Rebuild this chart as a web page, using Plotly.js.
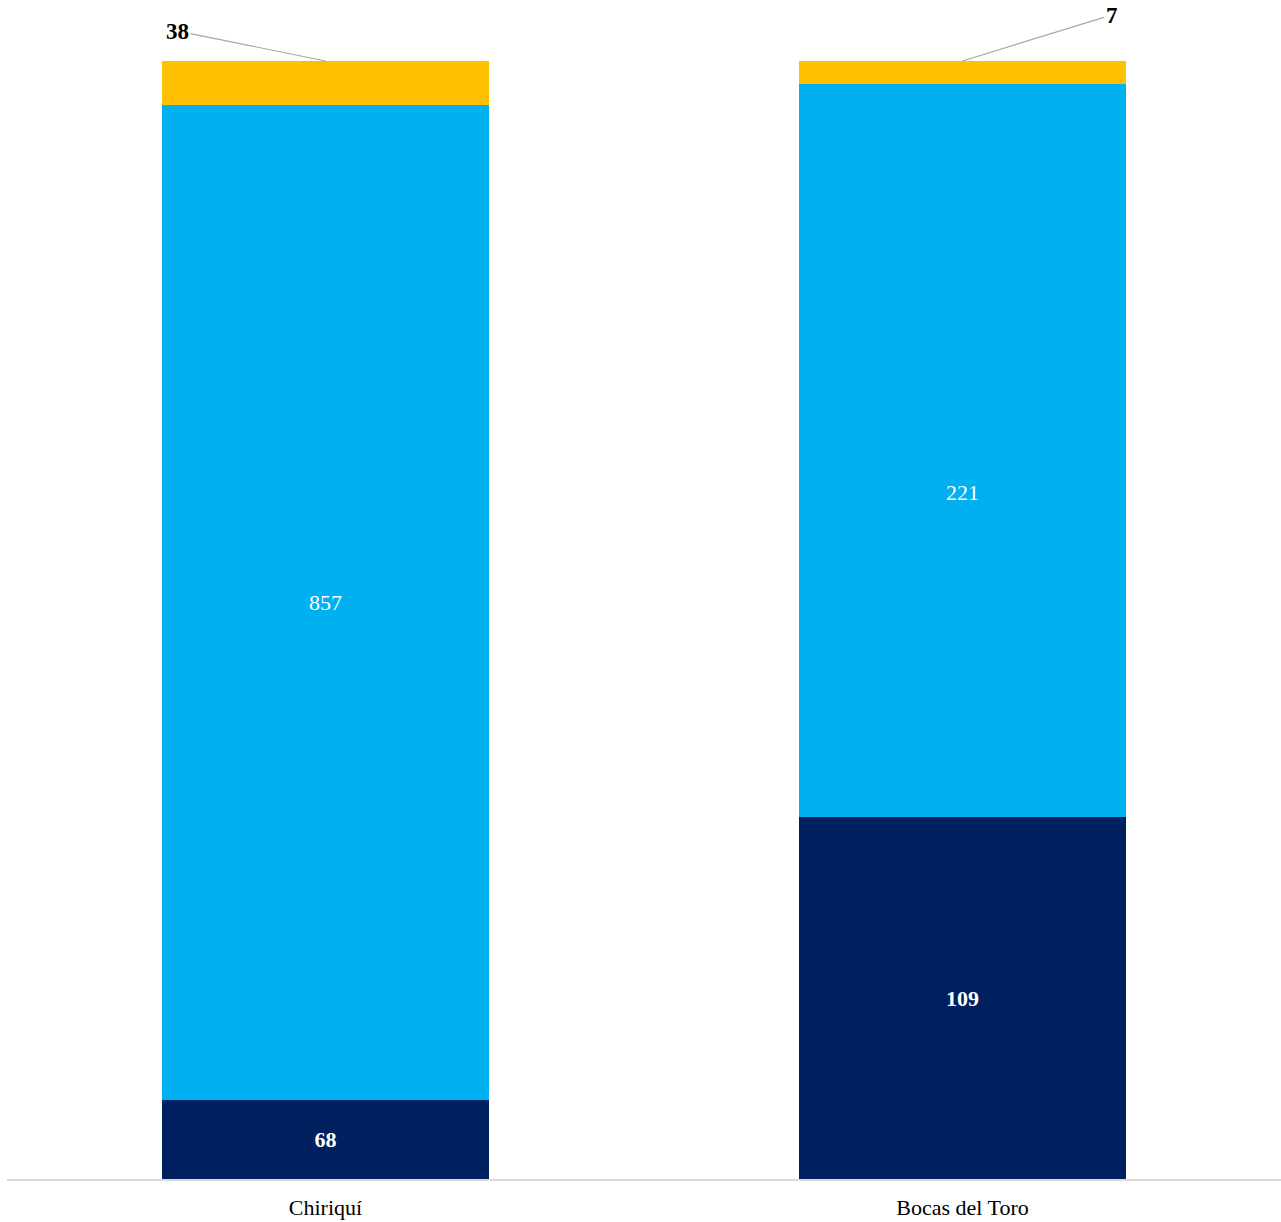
<!DOCTYPE html>
<html>
<head>
<meta charset="utf-8">
<script src="https://cdn.plot.ly/plotly-3.0.1.min.js"></script>
<style>html,body{margin:0;padding:0;background:#fff;}#chart{width:1281px;height:1222px;}</style>
</head>
<body>
<div id="chart"></div>
<script>
const categories = ["Chiriquí", "Bocas del Toro"];
const seriesNavy = [68, 109];
const seriesBlue = [857, 221];
const seriesYellow = [38, 7];
const colors = ["#002060", "#00B0F0", "#FFC000"];

const font = "Liberation Serif, DejaVu Serif, serif";

// pixel offsets of the mid-series labels, as placed in the reference
const blueLabelShift = [0, -42];

const traces = [
  {
    type: "bar", x: categories, y: seriesNavy, text: seriesNavy.map(String),
    marker: {color: colors[0]}, textposition: "inside", insidetextanchor: "middle",
    textfont: {color: "#ffffff", family: font, size: 22, weight: "bold"},
    hoverinfo: "skip"
  },
  {
    type: "bar", x: categories, y: seriesBlue,
    marker: {color: colors[1]}, textposition: "none",
    hoverinfo: "skip"
  },
  {
    type: "bar", x: categories, y: seriesYellow,
    marker: {color: colors[2]}, textposition: "none",
    hoverinfo: "skip"
  }
];

const totals = categories.map((c, i) => seriesNavy[i] + seriesBlue[i] + seriesYellow[i]);

const blueLabels = categories.map((c, i) => ({
  x: c, y: (seriesNavy[i] + seriesBlue[i] / 2) / totals[i] * 100,
  xref: "x", yref: "y", showarrow: false,
  text: String(seriesBlue[i]), yshift: blueLabelShift[i],
  font: {family: font, size: 22, color: "#ffffff"}
}));

const offsets = [[-148, -30], [149, -46]];
const outerLabels = categories.map((c, i) => ({
  x: c, y: 100, xref: "x", yref: "y",
  text: "<b>" + seriesYellow[i] + "</b>",
  showarrow: true, arrowhead: 0, arrowwidth: 1.2, arrowcolor: "#A6A6A6",
  ax: offsets[i][0], ay: offsets[i][1],
  font: {family: font, size: 23, color: "#000000"},
  standoff: 0
}));

const layout = {
  width: 1281, height: 1222,
  margin: {l: 7, r: 0, t: 61, b: 43},
  paper_bgcolor: "#ffffff", plot_bgcolor: "#ffffff",
  barmode: "stack", barnorm: "percent", bargap: 0.488,
  showlegend: false,
  xaxis: {
    showline: true, linecolor: "#D9D9D9", linewidth: 1.5,
    ticks: "", showgrid: false, zeroline: false, ticklabelstandoff: 8,
    tickfont: {family: font, size: 22, color: "#000000"}
  },
  yaxis: {
    range: [0, 100], visible: false, showgrid: false, zeroline: false
  },
  annotations: blueLabels.concat(outerLabels),
  font: {family: font}
};

Plotly.newPlot("chart", traces, layout, {displayModeBar: false, staticPlot: true});
</script>
</body>
</html>
